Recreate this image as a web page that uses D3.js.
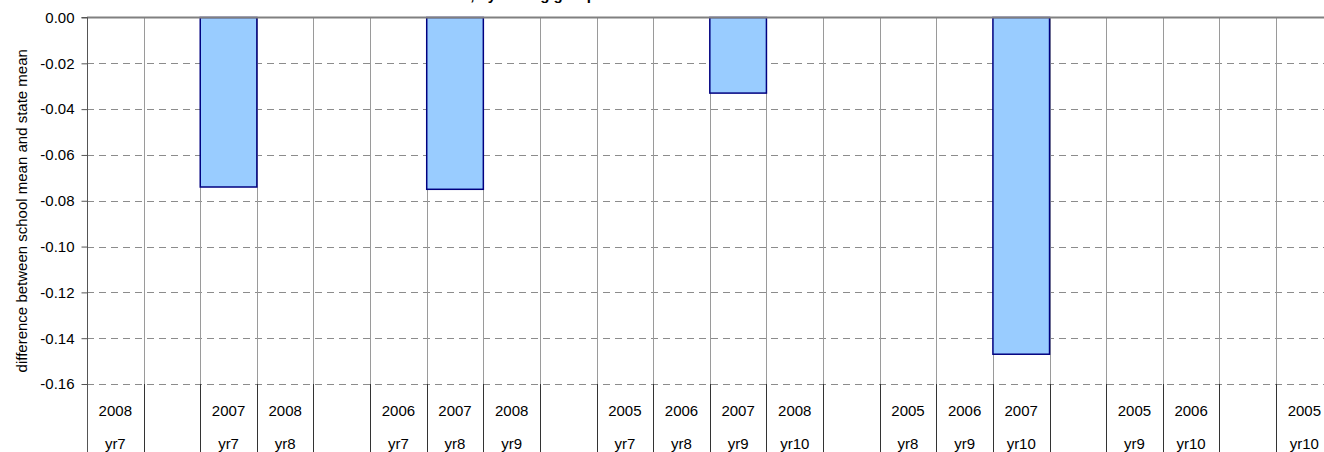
<!DOCTYPE html>
<html>
<head>
<meta charset="utf-8">
<script src="https://cdn.jsdelivr.net/npm/d3@7"></script>
<style>
  html, body { margin: 0; padding: 0; background: #fff; }
  svg { display: block; }
  text { font-family: Arial, "Liberation Sans", sans-serif; fill: #000; }
</style>
</head>
<body>
<svg id="chart" width="1324" height="452"></svg>
<script>
// ---- data ----
const categoryIds = d3.range(22);
const yearLabels  = ["2008","","2007","2008","","2006","2007","2008","","2005","2006","2007","2008","","2005","2006","2007","","2005","2006","","2005"];
const levelLabels = ["yr7","","yr7","yr8","","yr7","yr8","yr9","","yr7","yr8","yr9","yr10","","yr8","yr9","yr10","","yr9","yr10","","yr10"];
const values      = [null,null,-0.074,null,null,null,-0.075,null,null,null,null,-0.033,null,null,null,null,-0.147,null,null,null,null,null];
const yTicks      = [0,-0.02,-0.04,-0.06,-0.08,-0.10,-0.12,-0.14,-0.16];
const chartTitle  = "Difference between school mean and state mean, by testing group";
const yTitle      = "difference between school mean and state mean";

// ---- layout ----
const W = 1324, H = 452;
const plotLeft = 87, plotTop = 17.5, plotBottom = 384;
const colW = 56.62;

const svg = d3.select("#chart");

const x = d3.scaleBand().domain(categoryIds).range([plotLeft, plotLeft + colW * categoryIds.length]).padding(0);
const y = d3.scaleLinear().domain([0, -0.16]).range([plotTop, plotBottom]);

// title (cropped at the top edge, as in the reference: only descenders show)
svg.append("text")
  .attr("x", 596).attr("y", -0.5)
  .attr("text-anchor", "end")
  .style("font-size", "15px").style("font-weight", "bold")
  .text(chartTitle);

// horizontal dashed gridlines
svg.append("g").selectAll("line")
  .data(yTicks.filter(d => d !== 0))
  .join("line")
  .attr("x1", plotLeft).attr("x2", W)
  .attr("y1", d => Math.round(y(d)) + 0.5).attr("y2", d => Math.round(y(d)) + 0.5)
  .attr("stroke", "#8c8c8c").attr("stroke-width", 1)
  .attr("stroke-dasharray", "7,5");

// vertical gridlines (category boundaries)
const bounds = categoryIds.map(d => x(d)).concat([x(categoryIds[categoryIds.length - 1]) + x.bandwidth()]);
svg.append("g").selectAll("line")
  .data(bounds)
  .join("line")
  .attr("x1", d => Math.round(d) + 0.5).attr("x2", d => Math.round(d) + 0.5)
  .attr("y1", plotTop).attr("y2", plotBottom)
  .attr("stroke", "#9a9a9a").attr("stroke-width", 1);
svg.append("g").selectAll("line")
  .data(bounds)
  .join("line")
  .attr("x1", d => Math.round(d) + 0.5).attr("x2", d => Math.round(d) + 0.5)
  .attr("y1", plotBottom).attr("y2", H)
  .attr("stroke", "#333").attr("stroke-width", 1);

// bars
svg.append("g").selectAll("rect")
  .data(categoryIds.filter(i => values[i] !== null))
  .join("rect")
  .attr("x", i => x(i))
  .attr("width", x.bandwidth())
  .attr("y", i => y(0))
  .attr("height", i => y(values[i]) - y(0))
  .attr("fill", "#99CCFF")
  .attr("stroke", "#000080")
  .attr("stroke-width", 1.5);

// top zero line
svg.append("line")
  .attr("x1", plotLeft).attr("x2", W)
  .attr("y1", y(0)).attr("y2", y(0))
  .attr("stroke", "#808080").attr("stroke-width", 2);

// y axis
const yAxis = d3.axisLeft(y).tickValues(yTicks).tickFormat(d3.format(".2f")).tickSize(6).tickPadding(7);
const gy = svg.append("g").attr("transform", `translate(${plotLeft + 0.5},0)`).call(yAxis);
gy.select(".domain").attr("stroke", "#555").attr("d", `M-6,${y(0)}H0V${H}`);
gy.selectAll(".tick line").attr("stroke", "#555");
gy.selectAll(".tick text").style("font-size", "15px").attr("fill", "#000")
  .text(d => d3.format(".2f")(d).replace("−", "-"));

// category labels
const lab = svg.append("g");
lab.selectAll("text.yr")
  .data(categoryIds)
  .join("text")
  .attr("class", "yr")
  .attr("x", i => x(i) + x.bandwidth() / 2)
  .attr("y", 416)
  .attr("text-anchor", "middle")
  .style("font-size", "15px")
  .text(i => yearLabels[i]);
lab.selectAll("text.lv")
  .data(categoryIds)
  .join("text")
  .attr("class", "lv")
  .attr("x", i => x(i) + x.bandwidth() / 2)
  .attr("y", 449)
  .attr("text-anchor", "middle")
  .style("font-size", "15px")
  .text(i => levelLabels[i]);

// y axis title
svg.append("text")
  .attr("transform", `translate(27,${(plotTop + plotBottom) / 2 + 10}) rotate(-90)`)
  .attr("text-anchor", "middle")
  .style("font-size", "15px")
  .text(yTitle);
</script>
</body>
</html>
